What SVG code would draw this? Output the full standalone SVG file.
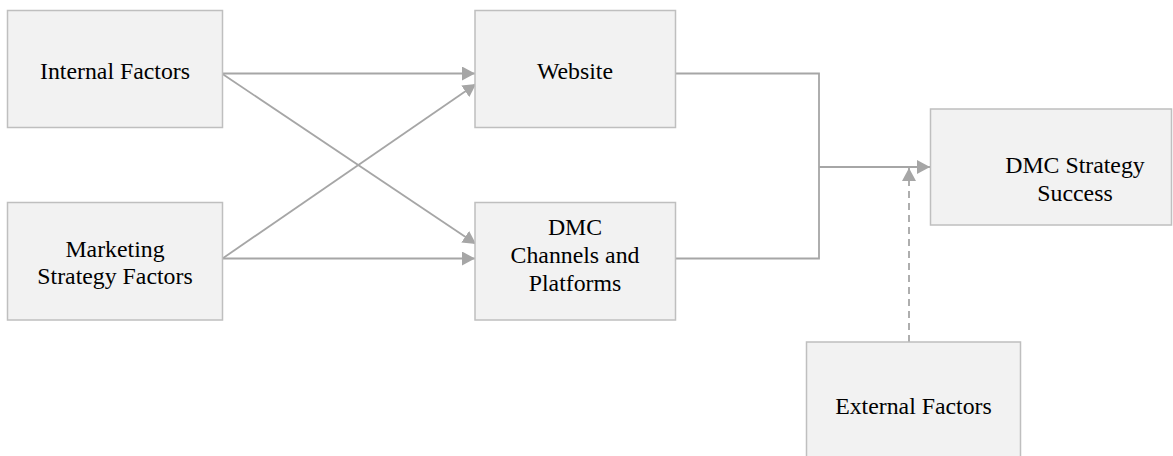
<svg xmlns="http://www.w3.org/2000/svg" width="1173" height="456" viewBox="0 0 1173 456">
<style>
.box{fill:#F2F2F2;stroke:#BFBFBF;stroke-width:1.5}
.t{font-family:"Liberation Serif","Times New Roman",serif;font-size:23.8px;fill:#000;text-anchor:middle}
.c{fill:none;stroke:#A6A6A6;stroke-width:1.8}
.d{stroke-dasharray:7,5}
</style>
<defs>
<marker id="ah" viewBox="0 0 13 14" refX="13" refY="7" markerWidth="13" markerHeight="14" markerUnits="userSpaceOnUse" orient="auto">
<path d="M0,0 L13,7 L0,14 z" fill="#A6A6A6"/>
</marker>
</defs>
<rect width="1173" height="456" fill="#fff"/>
<g id="connectors">
<path class="c" d="M222.5,73.5 H475" marker-end="url(#ah)"/>
<path class="c" d="M222.5,74 L476,244" marker-end="url(#ah)"/>
<path class="c" d="M222.5,258.5 L476,84" marker-end="url(#ah)"/>
<path class="c" d="M222.5,258.5 H475" marker-end="url(#ah)"/>
<path class="c" d="M675.5,73.5 H819 V258.5 H675.5"/>
<path class="c" d="M819,167 H930" marker-end="url(#ah)"/>
<path class="c d" d="M909,342 V168" marker-end="url(#ah)"/>
</g>
<g id="internal">
<rect class="box" x="7.5" y="10.5" width="215" height="117"/>
<text class="t" x="115" y="79">Internal Factors</text>
</g>
<g id="marketing">
<rect class="box" x="7.5" y="202.5" width="215" height="117.5"/>
<text class="t" x="115" y="256.5">Marketing</text>
<text class="t" x="115" y="283.5">Strategy Factors</text>
</g>
<g id="website">
<rect class="box" x="475" y="10.5" width="200.5" height="117"/>
<text class="t" x="575" y="79">Website</text>
</g>
<g id="dmc">
<rect class="box" x="475" y="202.5" width="200.5" height="117.5"/>
<text class="t" x="575" y="235">DMC</text>
<text class="t" x="575" y="263">Channels and</text>
<text class="t" x="575" y="291">Platforms</text>
</g>
<g id="success">
<rect class="box" x="930.5" y="109" width="241" height="116"/>
<text class="t" x="1075" y="172.5">DMC Strategy</text>
<text class="t" x="1075" y="201">Success</text>
</g>
<g id="external">
<rect class="box" x="806.5" y="342" width="214" height="120"/>
<text class="t" x="913.5" y="413.5">External Factors</text>
</g>
</svg>
